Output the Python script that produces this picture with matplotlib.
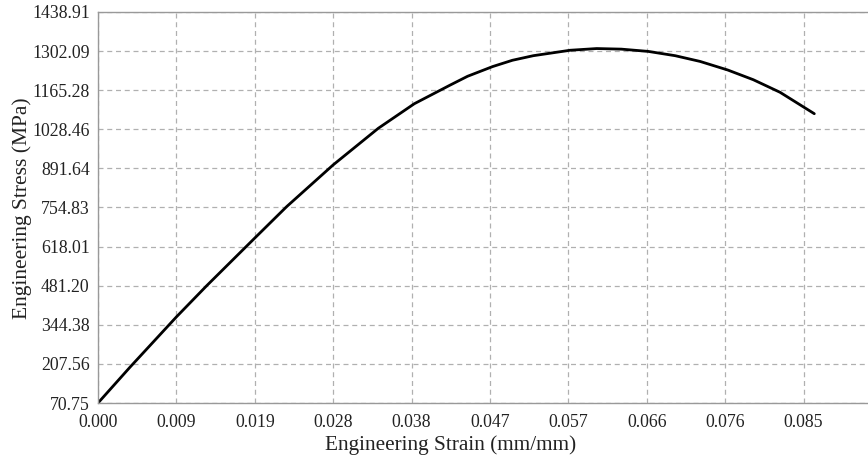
import numpy as np
import matplotlib.pyplot as plt

# values
strain = [0.0, 0.00385, 0.00944, 0.01309, 0.01888, 0.02272, 0.02832, 0.03375,
          0.03809, 0.04239, 0.0445, 0.04752, 0.0499, 0.05241, 0.05683, 0.06005,
          0.06300, 0.06626, 0.0695, 0.07249, 0.07582, 0.0789, 0.08212, 0.08625]
stress = [70.75, 196.0, 372.0, 481.2, 648.0, 758.0, 904.0, 1032.0,
          1118.0, 1183.0, 1214.0, 1248.0, 1270.0, 1286.0, 1305.0, 1311.0,
          1309.0, 1301.0, 1286.0, 1266.0, 1236.0, 1202.0, 1158.0, 1083.0]

x_ticks = [0.0, 0.00944, 0.01888, 0.02832, 0.03776, 0.0472, 0.05664,
           0.06608, 0.07552, 0.08496]
x_labels = ["0.000", "0.009", "0.019", "0.028", "0.038", "0.047", "0.057",
            "0.066", "0.076", "0.085"]
y_ticks = [70.75, 207.56, 344.38, 481.20, 618.01, 754.83, 891.64, 1028.46,
           1165.28, 1302.09, 1438.91]

plt.rcParams['font.family'] = ['Liberation Serif', 'DejaVu Serif']

W, H = 868, 459
fig = plt.figure(figsize=(W / 100, H / 100), dpi=100)
ax = fig.add_axes([98 / W, 56 / H, 784 / W, 391 / H])

ax.plot(strain, stress, color="black", lw=2.0, solid_joinstyle="round",
        solid_capstyle="round")

ax.set_xlim(0, 0.0944)
ax.set_ylim(y_ticks[0], y_ticks[-1])
ax.set_xticks(x_ticks)
ax.set_xticklabels(x_labels)
ax.set_yticks(y_ticks)
ax.set_yticklabels([f"{v:.2f}" for v in y_ticks])
ax.tick_params(length=0, labelsize=12.8, colors="#222222")
ax.tick_params(axis="x", pad=8)
ax.tick_params(axis="y", pad=6)

ax.grid(True, color="#b0b0b0", linestyle=(0, (4, 3)), lw=0.9)
for s in ["left", "top", "bottom"]:
    ax.spines[s].set_color("#999999")
    ax.spines[s].set_linewidth(1.0)
ax.spines["right"].set_visible(False)

fig.text(451 / W, 1 - 445 / H, "Engineering Strain (mm/mm)", ha="center",
         va="center", fontsize=15.3, color="#222222")
fig.text(22 / W, 1 - 208 / H, "Engineering Stress (MPa)", ha="center",
         va="center", rotation=90, fontsize=15.5, color="#222222")

fig.savefig("out.png", dpi=100)
